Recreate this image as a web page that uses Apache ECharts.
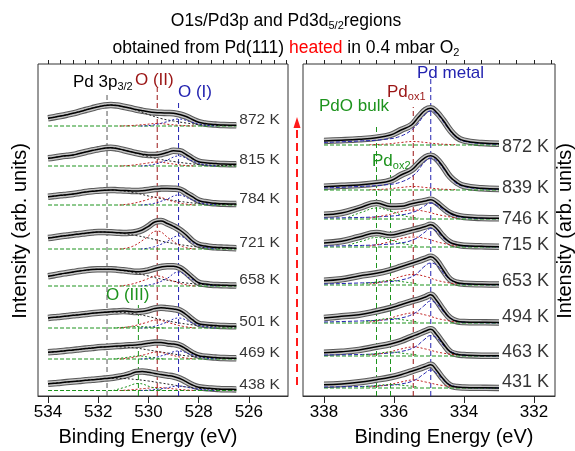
<!DOCTYPE html>
<html><head><meta charset="utf-8">
<script src="https://cdn.jsdelivr.net/npm/echarts@6/dist/echarts.min.js"></script>
<style>html,body{margin:0;padding:0;background:#fff}#c{width:575px;height:451px}</style>
</head><body><div id="c"></div>
<script>
// ---------------- LEFT PANEL DATA (O1s / Pd3p) ----------------
const leftEnergy = [534,533.75,533.5,533.25,533,532.75,532.5,532.25,532,531.75,531.5,531.25,531,530.75,530.5,530.25,530,529.75,529.5,529.25,529,528.75,528.5,528.25,528,527.75,527.5,527.25,527,526.75,526.5];
const leftTemps = ['872 K','815 K','784 K','721 K','658 K','501 K','469 K','438 K'];
const leftOffsets = [270,230,191,147,110,68,37,5.5];
const leftSpectra = [
 [7.7,8.8,10,11.3,12.7,14.3,16,17.7,19.3,20.5,21,20.5,19.3,18,16.5,15.3,14.3,13.6,13.2,13,12.7,11.5,9.5,6.5,3.8,2.5,1.7,1.3,1,0.8,0.7],
 [7.7,8.5,9.5,10.3,11,12.5,14,15.5,16.7,17.8,18.3,17.5,16,14.5,13,11.8,11,11,11.8,13.5,15.2,14.8,11.5,7.5,4.3,3.3,2.7,2.3,2,1.8,1.7],
 [8.3,9,9.7,10.3,11,12,13,13.8,14.3,14.8,15,14.8,14.5,14.2,14,14.3,15,16,16.4,16.5,16.3,15.5,12,8.3,4.5,3,2,1.6,1.3,1.1,1],
 [11,11.8,12.7,13.5,14.3,15,15.8,16.5,17,17,16.7,16.3,16,16.2,17,19,22.7,27,28,25.5,22.7,19,14,8,4.3,3,2,1.6,1.3,1,0.7],
 [9.7,10.8,12,13,14,15,15.8,16.4,16.7,16.8,16.7,16.3,15.7,15,14.3,14.5,15.7,17.5,19,19.7,19.7,18,13.5,8,3.3,2,1.3,1,0.8,0.6,0.5],
 [10,10.7,11.3,12,12.7,13.3,14,14.7,15.3,15.8,16.2,16.6,17,16.6,16,16.5,17.7,19.5,20.2,19.7,19,17.5,13.5,8.3,4.3,3.3,2.7,2.3,2,1.8,1.7],
 [6.7,7.2,7.8,8.4,9,9.7,10.4,11,11.7,12.1,12.5,12.9,13.3,13.7,14,14.8,15.7,16.4,16.5,15.6,15,13.5,10,6,3.3,2.4,1.7,1.3,1,0.8,0.7],
 [6.7,7.3,7.8,8.4,9,9.6,10.2,10.7,11.3,11.9,12.5,13.5,14.7,16.3,18.6,19,18.3,17,16,15,14,12,8.8,5.5,3.3,2.5,2,1.6,1.3,1.2,1.1]
];
// fit components (left)
const pd3pEnergy = [534,533.5,533,532.5,532,531.5,531,530.5,530,529.5,529,528.5,528,527.5,527,526.5];
const pd3pComp = [
 [7.7,10,12.7,16,19.3,21,19.3,16,11.5,7.5,5,3,1.5,0.8,0.5,0.4],
 [7.7,9.5,11,14,16.7,18.3,16,13,9.5,6.5,4.5,2.8,1.5,0.8,0.5,0.4],
 [8.3,9.7,11,13,14.3,15,14,12,9,6.5,4.5,2.8,1.5,0.8,0.5,0.4],
 [11,12.7,14.3,15.8,17,16.7,15.5,13.5,11,8,5.5,3.5,2,1,0.6,0.4],
 [9.7,12,14,15.8,16.7,16.7,15.3,13,10,7,4.8,3,1.8,1,0.6,0.4],
 [10,11.3,12.7,14,15.3,16,15.5,14,11.5,8.5,6,4,2.5,1.5,1,0.8],
 [6.7,7.8,9,10.4,11.7,12.4,12,11,9,7,5,3.2,2,1.2,0.8,0.6],
 [6.7,7.8,9,10.2,11.3,12.3,12,11,9.5,7.5,5.5,3.5,2.2,1.3,0.9,0.7]
];
const o2Energy = [531.15,530.65,530.15,529.65,529.15,528.65,528.15];
const o2Comp = [
 [0,0.5,1.5,2.5,1.5,0.5,0],
 [0,0.8,2.5,4,2.5,0.8,0],
 [0,1.5,4.5,8,4.5,1.5,0],
 [0,2.5,10,18,10,2.5,0],
 [0,2,6,10,6,2,0],
 [0,1.8,5,8,5,1.8,0],
 [0,1.5,4.3,7,4.3,1.5,0],
 [0,0.8,2,3,2,0.8,0]
];
const o1Energy = [530.3,529.8,529.3,528.8,528.3,527.8,527.3];
const o1Comp = [
 [0,1,4,7,4,1,0],
 [0,1.5,5.5,10,5.5,1.5,0],
 [0,1.5,5.5,10,5.5,1.5,0],
 [0,2,7,13,7,2,0],
 [0,2,7,14,7,2,0],
 [0,1.5,5.5,10,5.5,1.5,0],
 [0,1.2,4.5,8,4.5,1.2,0],
 [0,0.8,2.5,4.5,2.5,0.8,0]
];
const o3Energy = [531.4,530.9,530.4,529.9,529.4];
const o3Comp = [null,null,null,null,null,
 [0,0.8,1.5,0.8,0],
 [0,1.5,3,1.5,0],
 [0,3.5,7,3.5,0]
];
const leftMajorTicks = [534,532,530,528,526];
const leftMinorTicks = [534,533.5,533,532.5,532,531.5,531,530.5,530,529.5,529,528.5,528,527.5,527,526.5,526,525.5,525,524.5];

// ---------------- RIGHT PANEL DATA (Pd3d5/2) ----------------
const rightEnergy = [338,337.5,337,336.5,336.1,335.8,335.5,335.3,335.1,334.95,334.8,334.6,334.4,334.2,334,333.5,333];
const rightTemps = ['872 K','839 K','746 K','715 K','653 K','494 K','463 K','431 K'];
const rightOffsets = [251,206,177,149,111,73,40,8];
const rightSpectra = [
 [4,4.7,5.7,7.3,10,15,20,28,35,36.7,33.3,25,15,7.7,4.3,2,1.3],
 [3.3,4.2,5,6.7,9.3,15,20,26.7,32.7,34.3,31.7,23.3,13.3,7.3,4,1.7,1],
 [4.3,6,11,16,12.5,12.7,15.3,16.8,18,19.3,16.7,11,6,3.3,2,1,0.7],
 [4,5.7,10,14,12,14,16.7,18.5,20.5,22.3,19,10.7,4.7,2.3,1.3,0.7,0.3],
 [4.3,5.7,9,11.7,15,18.3,21.7,24,26.5,28.3,25,15,5.7,2.3,1.3,0.7,0.5],
 [5,6.7,8.3,11.7,15,18.3,21.7,23.5,26,28.3,23.3,13.3,5,1.7,1,0.7,0.5],
 [3.3,4.3,6,9.3,12,15,19.3,22,25,26.7,22,12.7,4.3,1.7,1,0.3,0.2],
 [3.3,4,5.7,8.3,10.7,13.3,16.7,19,21.5,23.3,18.3,9.3,2.7,1,0.5,0.2,0.1]
];
const metalEnergy = [338,337,336.3,335.8,335.4,335.15,334.95,334.75,334.5,334.25,334,333.5,333];
const metalComp = [
 [2.5,4,5.5,9,18,29,34,30,19,8.5,3.8,1.5,0.8],
 [2,3.5,5,8,16,27,32,28,17.5,7.5,3.5,1.3,0.7],
 [1,1.5,2.5,4,7.5,12.5,16,13,7.5,3,1.5,0.6,0.4],
 [1,1.5,2.5,4,8,14,18.5,14.5,6.5,2.5,1,0.4,0.2],
 [1,2,3,5,10,18,22,19,8.5,2.8,1,0.4,0.2],
 [1,2,3,5,10,17,22,18,8,2.5,0.8,0.3,0.2],
 [1,1.5,2.5,4.5,9,16,20.5,17,7.5,2.5,0.8,0.3,0.1],
 [1,1.5,2.5,4,8,14,18,13.5,5.5,1.5,0.5,0.2,0.1]
];
const ox1Energy = [336.7,336.2,335.8,335.45,335.1,334.7,334.2];
const ox1Comp = [
 [0.3,1,2.5,3.5,2.5,1,0.3],
 [0.3,1,2.5,3.5,2.5,1,0.3],
 [1,4,7.5,9,7.5,4,1],
 [1,4.5,8.5,10,8.5,4.5,1],
 [1,4,8.5,10.5,8.5,4,1],
 [1,4,8,10,8,4,1],
 [1,3.5,7,9,7,3.5,1],
 [1,3,6,8,6,3,1]
];
const bulkEnergy = [337.3,336.9,336.5,336.1,335.7,335.3];
const bulkComp = [null,null,
 [2,7,11,8,3,1],
 [2,6,9.5,7,3,1],
 null,null,null,null
];
const ox2Energy = [336.9,336.5,336.1,335.7,335.3];
const ox2Comp = [null,null,null,null,
 [1,3,4.5,3,1],
 [1,3,4.5,3,1],
 [1,2.5,4,2.5,1],
 [1,2.5,3.5,2.5,1]
];
const rightMajorTicks = [338,336,334,332];
const rightMinorTicks = [338.5,338,337.5,337,336.5,336,335.5,335,334.5,334,333.5,333,332.5,332,331.5];

// ---------------- BUILD ----------------
const FONT = 'Liberation Sans, Arial, Helvetica, sans-serif';
const GREEN = '#1d931d', DRED = '#9a1414', BLUE = '#2323b0', GRAYD = '#555';
const SMOOTH = 0.45;
const series = [];

function pts(E, vals, off){ return E.map((e,i)=>[e, off + vals[i]]); }

function spectrum(ax, E, vals, off, label, fs, dy){
  const y = ax/2|0;
  const d = pts(E, vals, off);
  series.push({type:'line', xAxisIndex:ax, yAxisIndex:y, data:d, smooth:SMOOTH, symbol:'none', silent:true, z:3, lineStyle:{color:'#5a5a5a', width:6.5}});
  series.push({type:'line', xAxisIndex:ax, yAxisIndex:y, data:d, smooth:SMOOTH, symbol:'none', silent:true, z:3, lineStyle:{color:'#c4c4c4', width:4.4}});
  series.push({type:'line', xAxisIndex:ax, yAxisIndex:y, data:d, smooth:SMOOTH, symbol:'none', silent:true, z:6, lineStyle:{color:'#000', width:1.5}});
  series.push({type:'line', xAxisIndex:ax, yAxisIndex:y, data:[[E[0],off],[E[E.length-1],off]], symbol:'none', silent:true, z:4, lineStyle:{color:GREEN, width:1, type:[4,2]}});
  series.push({type:'scatter', xAxisIndex:ax, yAxisIndex:y, data:[[E[E.length-1], off]], symbolSize:0, silent:true, z:7,
    label:{show:true, position:'right', distance:3, offset:[0,dy], formatter:label, fontSize:fs, fontFamily:FONT, color:'#000'}});
}
function comp(ax, E, vals, off, color, type){
  if(!vals) return;
  series.push({type:'line', xAxisIndex:ax, yAxisIndex:ax/2|0, data:pts(E, vals, off), smooth:SMOOTH, symbol:'none', silent:true, z:5, lineStyle:{color:color, width:1, type:type}});
}
function guide(ax, e, top, color){
  series.push({type:'line', xAxisIndex:ax, yAxisIndex:ax/2|0, data:[[e,0],[e,top]], symbol:'none', silent:true, z:1, lineStyle:{color:color, width:1, type:[5,3]}});
}

leftSpectra.forEach((s,i)=>{
  spectrum(0, leftEnergy, s, leftOffsets[i], leftTemps[i], 15.5, -6);
  comp(0, pd3pEnergy, pd3pComp[i], leftOffsets[i], '#222', [2,2]);
  comp(0, o2Energy, o2Comp[i], leftOffsets[i], '#c02020', [2,2]);
  comp(0, o1Energy, o1Comp[i], leftOffsets[i], BLUE, [2,2]);
  comp(0, o3Energy, o3Comp[i], leftOffsets[i], GREEN, [2,2]);
});
guide(0, 531.65, 304, GRAYD);
guide(0, 529.65, 308, DRED);
guide(0, 528.8, 296, BLUE);
guide(0, 530.4, 91, GREEN);

const rightDy = [2,-2,0,-2,-4,-6,-4,-6];
rightSpectra.forEach((s,i)=>{
  spectrum(2, rightEnergy, s, rightOffsets[i], rightTemps[i], 18, rightDy[i]);
  comp(2, metalEnergy, metalComp[i], rightOffsets[i], BLUE, [4,2]);
  comp(2, ox1Energy, ox1Comp[i], rightOffsets[i], '#c02020', [2,2]);
  comp(2, bulkEnergy, bulkComp[i], rightOffsets[i], GREEN, [2,2]);
  comp(2, ox2Energy, ox2Comp[i], rightOffsets[i], GREEN, [2,2]);
});
guide(2, 336.5, 271, GREEN);
guide(2, 336.1, 226, GREEN);
guide(2, 335.45, 289, DRED);
guide(2, 334.95, 319, BLUE);

function majorAxis(g, min, max, ticks){
  return {type:'value', gridIndex:g, inverse:true, min:min, max:max,
    axisLine:{show:true, lineStyle:{color:'#333', width:1}}, splitLine:{show:false},
    axisTick:{show:true, length:7, customValues:ticks, lineStyle:{color:'#222', width:1}},
    axisLabel:{show:true, customValues:ticks, fontSize:17, fontFamily:FONT, color:'#000', margin:8}};
}
function minorAxis(g, min, max, ticks){
  return {type:'value', gridIndex:g, inverse:true, min:min, max:max,
    axisLine:{show:false}, splitLine:{show:false},
    axisTick:{show:true, length:4, customValues:ticks, lineStyle:{color:'#222', width:1}},
    axisLabel:{show:false}};
}

const txt = (x,y,text,opts)=>({type:'text', x:x, y:y, silent:true, style:Object.assign({text:text, fill:'#000', fontFamily:FONT, fontSize:17, align:'left', verticalAlign:'middle'}, opts||{})});

const subStyle = {fontSize:11, fontFamily:FONT, padding:[9,0,0,0]};
const option = {
  animation:false,
  backgroundColor:'#fff',
  grid:[
    {left:38, top:64, width:250, height:332, show:true, borderColor:'#333', borderWidth:1},
    {left:303, top:64, width:252, height:332, show:true, borderColor:'#333', borderWidth:1}
  ],
  xAxis:[
    majorAxis(0, 524.44, 534.4, leftMajorTicks),
    minorAxis(0, 524.44, 534.4, leftMinorTicks),
    majorAxis(1, 331.4, 338.6, rightMajorTicks),
    minorAxis(1, 331.4, 338.6, rightMinorTicks)
  ],
  yAxis:[
    {type:'value', gridIndex:0, min:0, max:332, show:false},
    {type:'value', gridIndex:1, min:0, max:332, show:false}
  ],
  series: series,
  graphic:[
    {type:'text', x:286, y:21, silent:true, style:{text:'{a|O1s/Pd3p and Pd3d}{s|5/2}{a|regions}', align:'center', verticalAlign:'middle',
      rich:{a:{fontSize:17.5, fontFamily:FONT, fill:'#000'}, s:Object.assign({fill:'#000'}, subStyle)}}},
    {type:'text', x:286, y:48, silent:true, style:{text:'{a|obtained from Pd(111) }{r|heated}{a| in 0.4 mbar O}{s|2}', align:'center', verticalAlign:'middle',
      rich:{a:{fontSize:17.5, fontFamily:FONT, fill:'#000'}, r:{fontSize:17.5, fontFamily:FONT, fill:'#ff0000'}, s:Object.assign({fill:'#000'}, subStyle)}}},
    {type:'text', x:73, y:82, silent:true, style:{text:'{a|Pd 3p}{s|3/2}', align:'left', verticalAlign:'middle',
      rich:{a:{fontSize:17, fontFamily:FONT, fill:'#000'}, s:Object.assign({fill:'#000'}, subStyle)}}},
    txt(135, 80, 'O (II)', {fill:DRED}),
    txt(178, 92, 'O (I)', {fill:BLUE}),
    txt(106, 295, 'O (III)', {fill:GREEN}),
    txt(417, 73, 'Pd metal', {fill:BLUE}),
    {type:'text', x:387, y:92, silent:true, style:{text:'{a|Pd}{s|ox1}', align:'left', verticalAlign:'middle',
      rich:{a:{fontSize:17, fontFamily:FONT, fill:DRED}, s:Object.assign({fill:DRED}, subStyle)}}},
    txt(319, 106, 'PdO bulk', {fill:GREEN}),
    {type:'text', x:372, y:161, silent:true, style:{text:'{a|Pd}{s|ox2}', align:'left', verticalAlign:'middle',
      rich:{a:{fontSize:17, fontFamily:FONT, fill:GREEN}, s:Object.assign({fill:GREEN}, subStyle)}}},
    {type:'text', x:148, y:437, silent:true, style:{text:'Binding Energy (eV)', fontSize:20, fontFamily:FONT, fill:'#000', align:'center', verticalAlign:'middle'}},
    {type:'text', x:444, y:437, silent:true, style:{text:'Binding Energy (eV)', fontSize:20, fontFamily:FONT, fill:'#000', align:'center', verticalAlign:'middle'}},
    {type:'text', x:20, y:231, rotation:Math.PI/2, silent:true, style:{text:'Intensity (arb. units)', fontSize:20, fontFamily:FONT, fill:'#000', align:'center', verticalAlign:'middle'}},
    {type:'text', x:565, y:231, rotation:Math.PI/2, silent:true, style:{text:'Intensity (arb. units)', fontSize:20, fontFamily:FONT, fill:'#000', align:'center', verticalAlign:'middle'}},
    {type:'line', silent:true, shape:{x1:297, y1:385, x2:297, y2:128}, style:{stroke:'#ff1a1a', lineWidth:2, lineDash:[8,5]}},
    {type:'polygon', silent:true, shape:{points:[[297,117],[293.5,128],[300.5,128]]}, style:{fill:'#ff1a1a'}}
  ]
};
const chart = echarts.init(document.getElementById('c'), null, {renderer:'canvas'});
chart.setOption(option);
</script>
</body></html>
